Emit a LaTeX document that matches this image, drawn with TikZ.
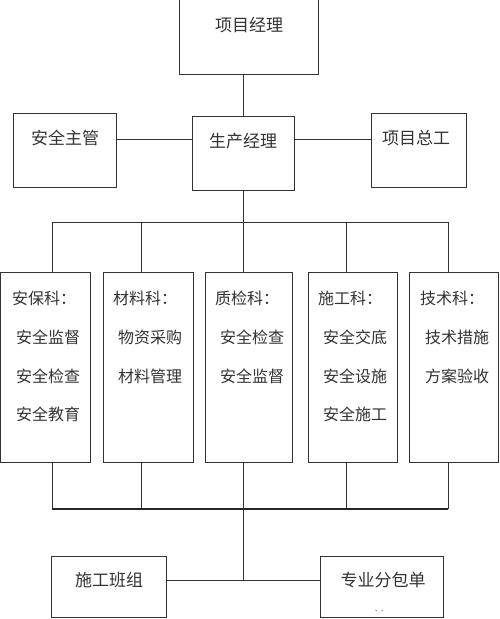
\documentclass[tikz,border=0pt]{standalone}
\usepackage{fontspec}
\newfontfamily\cjk{Noto Sans CJK SC}
\begin{document}
\begin{tikzpicture}[x=1pt,y=-1pt,
  box/.style={draw=black!80, line width=0.9pt, anchor=north west, inner sep=0pt},
  txt/.style={font=\cjk\fontsize{16}{16}\selectfont, text=black!80, inner sep=0pt},
  big/.style={txt, font=\cjk\fontsize{17}{17}\selectfont},
  ln/.style={draw=black!80, line width=0.9pt},
  bus/.style={draw=black!85, line width=1.2pt}]
\useasboundingbox (0,0) rectangle (500,619);
\clip (0,0) rectangle (500,619);
% boxes
\node[box, minimum width=139pt, minimum height=76pt] (pm) at (179,-2) {};
\node[box, minimum width=103pt, minimum height=74pt] (safe) at (13,113) {};
\node[box, minimum width=102pt, minimum height=74pt] (prod) at (192,116) {};
\node[box, minimum width=95pt, minimum height=74pt] (chief) at (371,113) {};
\node[box, minimum width=90pt, minimum height=190pt] (d1) at (0,272) {};
\node[box, minimum width=90pt, minimum height=190pt] (d2) at (103,272) {};
\node[box, minimum width=87pt, minimum height=190pt] (d3) at (205,272) {};
\node[box, minimum width=89pt, minimum height=190pt] (d4) at (308,272) {};
\node[box, minimum width=89pt, minimum height=190pt] (d5) at (409,272) {};
\node[box, minimum width=115pt, minimum height=61pt] (crew) at (51,556) {};
\node[box, minimum width=123pt, minimum height=61pt] (sub) at (320,556) {};
% texts
\node[big] (tpm) at (249,25) {项目经理};
\node[big] (tsafe) at (65,138) {安全主管};
\node[big] (tprod) at (243,141) {生产经理};
\node[big] (tchief) at (416,138) {项目总工};
\node[txt, anchor=west] (h1) at (12,298) {安保科：};
\node[txt, anchor=west] (h2) at (113,298) {材料科：};
\node[txt, anchor=west] (h3) at (215,298) {质检科：};
\node[txt, anchor=west] (h4) at (318,298) {施工科：};
\node[txt, anchor=west] (h5) at (420,298) {技术科：};
\node[txt, anchor=west] (a1) at (16,337) {安全监督};
\node[txt, anchor=west] (a2) at (16,376) {安全检查};
\node[txt, anchor=west] (a3) at (16,414) {安全教育};
\node[txt, anchor=west] (b1) at (118,337) {物资采购};
\node[txt, anchor=west] (b2) at (118,376) {材料管理};
\node[txt, anchor=west] (c1t) at (220,337) {安全检查};
\node[txt, anchor=west] (c2t) at (220,376) {安全监督};
\node[txt, anchor=west] (e1) at (323,337) {安全交底};
\node[txt, anchor=west] (e2) at (323,376) {安全设施};
\node[txt, anchor=west] (e3) at (323,414) {安全施工};
\node[txt, anchor=west] (f1) at (425,337) {技术措施};
\node[txt, anchor=west] (f2) at (425,376) {方案验收};
\node[big] (tcrew) at (109,580) {施工班组};
\node[big] (tsub) at (383,580) {专业分包单};
\node[txt, font=\cjk\fontsize{6}{6}\selectfont] (tdots) at (381,611) {、、};
% helper coordinates
\coordinate (hl) at (0,139);
\coordinate (bus1) at (0,222);
\coordinate (bus2) at (0,509);
\coordinate (hb) at (0,580);
\coordinate (x1) at (52,0);
\coordinate (x2) at (141,0);
\coordinate (x3) at (243,0);
\coordinate (x4) at (346,0);
\coordinate (x5) at (448,0);
% connectors
\draw[ln] (prod.north |- pm.south) -- (prod.north);
\draw[ln] (safe.east |- hl) -- (prod.west |- hl);
\draw[ln] (prod.east |- hl) -- (chief.west |- hl);
\draw[ln] (prod.south) -- (prod.south |- bus1);
\draw[ln] (x1 |- bus1) -- (x5 |- bus1);
\foreach \i in {1,...,5} {
  \draw[ln] (x\i |- bus1) -- (x\i |- d\i.north);
  \draw[ln] (x\i |- d\i.south) -- (x\i |- bus2);
}
\draw[bus] (x1 |- bus2) -- (x5 |- bus2);
\draw[ln] (x3 |- bus2) -- (x3 |- hb);
\draw[ln] (crew.east |- hb) -- (sub.west |- hb);
\end{tikzpicture}
\end{document}
